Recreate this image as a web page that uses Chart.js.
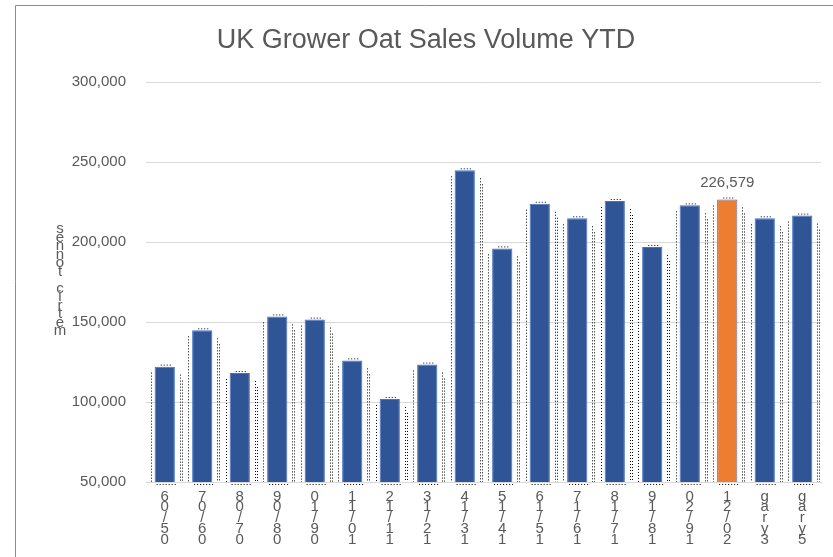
<!DOCTYPE html>
<html>
<head>
<meta charset="utf-8">
<script src="https://cdn.jsdelivr.net/npm/chart.js@4.4.0/dist/chart.umd.min.js"></script>
<style>
  html, body { margin: 0; padding: 0; background: #fff; }
  #wrap { position: relative; width: 833px; height: 557px; }
</style>
</head>
<body>
<div id="wrap"><canvas id="grafico" width="833" height="557"></canvas></div>
<script>
// seasons, as they read bottom-to-top under each bar
const seasons = ["05/06", "06/07", "07/08", "08/09", "09/10", "10/11", "11/12", "12/13", "13/14",
                 "14/15", "15/16", "16/17", "17/18", "18/19", "19/20", "20/21", "3yrag", "5yrag"];
// YTD sales volume, tonnes
const volumes = [122100, 144800, 118100, 153500, 151500, 126000, 101900, 123400, 244800,
                 196000, 223900, 214800, 225600, 196900, 222900, 226579, 214800, 216500];
const highlightIndex = 15;
const yTicks = [50000, 100000, 150000, 200000, 250000, 300000];
const yTitle = "metric tonnes";
const title = "UK Grower Oat Sales Volume YTD";

const FONT = "'Liberation Sans', Arial, sans-serif";
const GREY = "#595959";

// stacked characters, printed top to bottom
function stacked(s) {
    return s.split("").reverse();
}

const fmt = v => v.toLocaleString("en-GB");

const decor = {
    id: "decor",
    beforeDraw(chart) {
        const c = chart.ctx;
        c.save();
        c.strokeStyle = "#8c8c8c";
        c.lineWidth = 1;
        c.beginPath();
        c.moveTo(15.5, 557);
        c.lineTo(15.5, 5.5);
        c.lineTo(833, 5.5);
        c.stroke();
        c.restore();
    },
    beforeDatasetsDraw(chart) {
        // dotted outlines around the bars
        const c = chart.ctx;
        const base = chart.chartArea.bottom;
        c.save();
        c.strokeStyle = "#000";
        c.lineWidth = 1;
        c.setLineDash([1, 2]);
        chart.getDatasetMeta(0).data.forEach(bar => {
            const l = Math.round(bar.x - bar.width / 2) - 3.5;
            const r = Math.round(bar.x + bar.width / 2) + 5.5;
            c.beginPath();
            c.moveTo(l, bar.y + 6);
            c.lineTo(l, base);
            c.moveTo(r, bar.y + 8);
            c.lineTo(r, base);
            c.moveTo(r + 2, bar.y + 14);
            c.lineTo(r + 2, base);
            c.moveTo(bar.x - bar.width / 2 + 2, base + 2.5);
            c.lineTo(bar.x + bar.width / 2 + 2, base + 2.5);
            c.moveTo(bar.x - 4, bar.y - 1.5);
            c.lineTo(bar.x + 8, bar.y - 1.5);
            c.stroke();
        });
        c.restore();
    },
    afterDraw(chart) {
        const c = chart.ctx;
        c.save();
        c.fillStyle = GREY;
        c.textAlign = "center";
        c.textBaseline = "alphabetic";
        c.font = "27px " + FONT;
        c.fillText(title, 426, 48);
        c.textBaseline = "middle";
        c.font = "15px " + FONT;
        // axis title, letters stacked
        stacked(yTitle).forEach((ch, i) => {
            c.fillText(ch, 60, 229 + i * 8.5);
        });
        // value label on the highlighted bar
        const bar = chart.getDatasetMeta(0).data[highlightIndex];
        c.fillText(fmt(volumes[highlightIndex]), bar.x, bar.y - 17);
        c.restore();
    }
};

new Chart(document.getElementById("grafico"), {
    type: "bar",
    data: {
        labels: seasons.map(stacked),
        datasets: [{
            data: volumes,
            backgroundColor: volumes.map((v, i) => i === highlightIndex ? "#ED7D31" : "#2F5597"),
            borderColor: "#4472C4",
            borderWidth: 1,
            barPercentage: 0.54,
            categoryPercentage: 1
        }]
    },
    options: {
        responsive: false,
        animation: false,
        layout: { padding: { left: 0, right: 12, top: 82, bottom: 0 } },
        plugins: {
            legend: { display: false },
            tooltip: { enabled: false },
            title: { display: false }
        },
        scales: {
            x: {
                grid: { display: false, drawTicks: false },
                border: { color: "#d9d9d9" },
                ticks: {
                    color: GREY,
                    font: { family: FONT, size: 15, lineHeight: 0.72 },
                    padding: 9,
                    maxRotation: 0,
                    autoSkip: false
                },
                afterFit(s) { s.height = 75; }
            },
            y: {
                min: 50000,
                max: 300000,
                afterBuildTicks(s) { s.ticks = yTicks.map(v => ({ value: v })); },
                grid: { color: "#d9d9d9", drawTicks: false },
                border: { display: false },
                ticks: {
                    color: GREY,
                    font: { family: FONT, size: 15 },
                    padding: 20,
                    callback: v => fmt(v)
                },
                afterFit(s) { s.width = 146; }
            }
        }
    },
    plugins: [decor]
});
</script>
</body>
</html>
